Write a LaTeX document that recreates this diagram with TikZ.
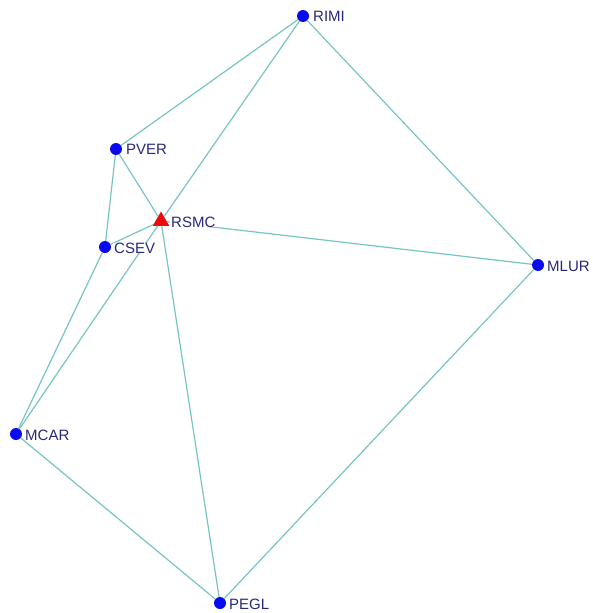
\documentclass[tikz,border=0pt]{standalone}
\usepackage{fontspec}
\setmainfont{Liberation Sans}
\usetikzlibrary{shapes.geometric}
\definecolor{edgec}{RGB}{120,195,195}
\definecolor{dotc}{RGB}{10,10,240}
\definecolor{labc}{RGB}{40,40,120}
\definecolor{trc}{RGB}{235,10,10}
\begin{document}
\begin{tikzpicture}[x=1pt,y=-1pt,
  vert/.style={circle,fill=dotc,inner sep=0pt,minimum size=12pt},
  tri/.style={regular polygon,regular polygon sides=3,fill=trc,inner sep=0pt,minimum size=19pt},
  lab/.style={anchor=west,text=labc,font=\fontsize{15}{15}\selectfont,inner sep=0pt},
  link/.style={draw=edgec,line width=1.2pt}]
\useasboundingbox (0,0) rectangle (592,613);
\node[vert] (RIMI) at (303,16) {};
\node[vert] (PVER) at (116,149) {};
\node[vert] (CSEV) at (105,247) {};
\node[vert] (MLUR) at (538,265) {};
\node[vert] (MCAR) at (16,434) {};
\node[vert] (PEGL) at (220,603) {};
\node[tri] (RSMC) at (161,221) {};
\draw[link] (RIMI) -- (PVER);
\draw[link] (RIMI) -- (RSMC);
\draw[link] (RIMI) -- (MLUR);
\draw[link] (PVER) -- (RSMC);
\draw[link] (PVER) -- (CSEV);
\draw[link] (RSMC) -- (CSEV);
\draw[link] (RSMC) -- (MLUR);
\draw[link] (RSMC) -- (PEGL);
\draw[link] (RSMC) -- (MCAR);
\draw[link] (CSEV) -- (MCAR);
\draw[link] (MCAR) -- (PEGL);
\draw[link] (PEGL) -- (MLUR);
\node[lab] (tRIMI) at (313,16) {RIMI};
\node[lab] (tPVER) at (126,149) {PVER};
\node[lab,fill=white,inner xsep=1pt] (tRSMC) at (170,222) {RSMC};
\node[lab,fill=white,inner xsep=1pt] (tCSEV) at (113,248) {CSEV};
\node[lab] (tMLUR) at (547,266) {MLUR};
\node[lab] (tMCAR) at (25,435) {MCAR};
\node[lab] (tPEGL) at (229,604) {PEGL};
\end{tikzpicture}
\end{document}
